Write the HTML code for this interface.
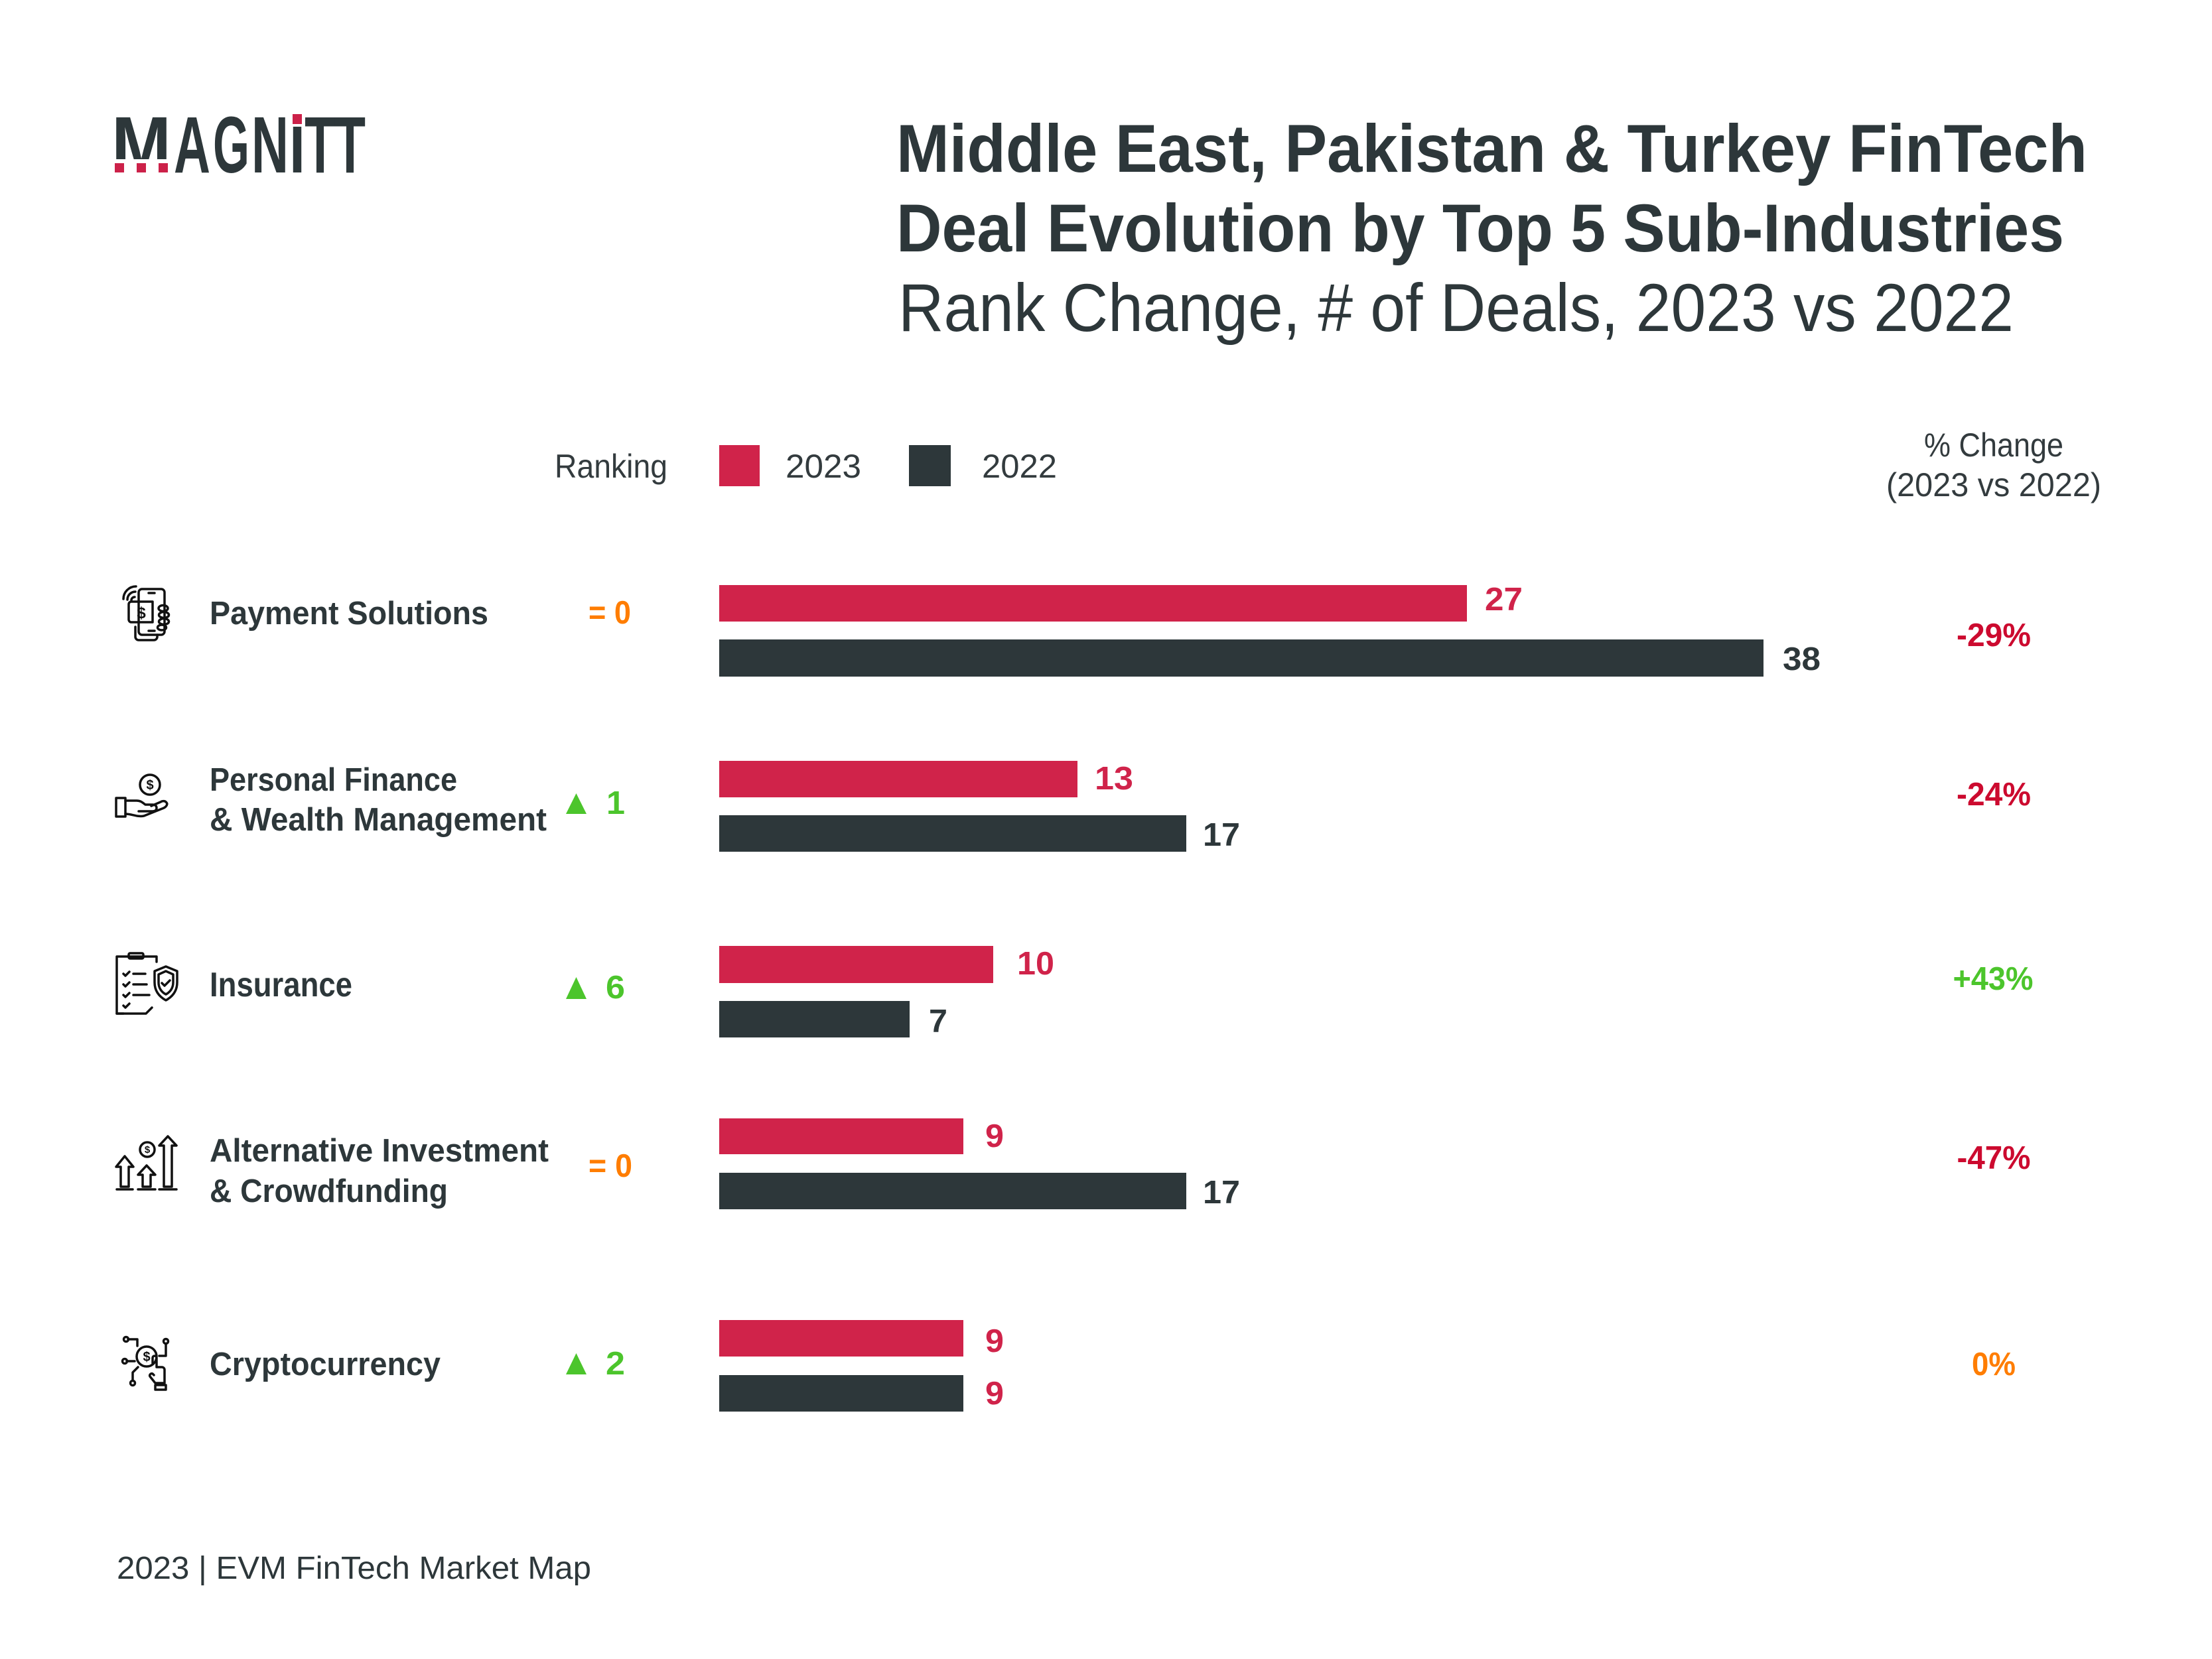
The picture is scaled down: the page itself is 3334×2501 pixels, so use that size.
<!DOCTYPE html>
<html>
<head>
<meta charset="utf-8">
<style>
html,body{margin:0;padding:0;background:#fff;}
svg{display:block;}
text{font-family:"Liberation Sans",Arial,sans-serif;}
</style>
</head>
<body>
<svg xmlns="http://www.w3.org/2000/svg" width="3334" height="2501" viewBox="0 0 3334 2501">
<rect x="0" y="0" width="3334" height="2501" fill="#ffffff"/>

<!-- Logo -->
<g fill="#2d373a" font-weight="bold" font-size="121">
  <text x="168" y="260" textLength="90" lengthAdjust="spacingAndGlyphs">M</text>
  <text x="262" y="260" textLength="55" lengthAdjust="spacingAndGlyphs">A</text>
  <text x="321" y="260" textLength="55" lengthAdjust="spacingAndGlyphs">G</text>
  <text x="379" y="260" textLength="56" lengthAdjust="spacingAndGlyphs">N</text>
  <text x="436" y="260" textLength="24" lengthAdjust="spacingAndGlyphs">I</text>
  <text x="459" y="260" textLength="47" lengthAdjust="spacingAndGlyphs">T</text>
  <text x="504" y="260" textLength="47" lengthAdjust="spacingAndGlyphs">T</text>
</g>
<rect x="166" y="240" width="92" height="24" fill="#fff"/>
<rect x="173" y="246" width="14" height="14" fill="#cc2149"/>
<rect x="206" y="246" width="14" height="14" fill="#cc2149"/>
<rect x="239" y="246" width="14" height="14" fill="#cc2149"/>
<rect x="434" y="168" width="26" height="23" fill="#fff"/>
<rect x="441" y="172" width="14" height="15" fill="#cc2149"/>

<!-- Title -->
<g fill="#2d373a">
  <text x="1351" y="259" font-size="102" font-weight="bold" textLength="1795" lengthAdjust="spacingAndGlyphs">Middle East, Pakistan &amp; Turkey FinTech</text>
  <text x="1351" y="379" font-size="102" font-weight="bold" textLength="1760" lengthAdjust="spacingAndGlyphs">Deal Evolution by Top 5 Sub-Industries</text>
  <text x="1354" y="499" font-size="102" textLength="1681" lengthAdjust="spacingAndGlyphs">Rank Change, # of Deals, 2023 vs 2022</text>
</g>

<!-- Legend -->
<g fill="#333b3e" font-size="50">
  <text x="836" y="720" textLength="170" lengthAdjust="spacingAndGlyphs">Ranking</text>
  <rect x="1084" y="671" width="61" height="62" fill="#d0234a"/>
  <text x="1184" y="720" textLength="114" lengthAdjust="spacingAndGlyphs">2023</text>
  <rect x="1370" y="671" width="63" height="62" fill="#2d373a"/>
  <text x="1480" y="720" textLength="113" lengthAdjust="spacingAndGlyphs">2022</text>
  <text x="3005" y="688" text-anchor="middle" textLength="210" lengthAdjust="spacingAndGlyphs">% Change</text>
  <text x="3005" y="748" text-anchor="middle" textLength="324" lengthAdjust="spacingAndGlyphs">(2023 vs 2022)</text>
</g>

<!-- Row labels -->
<g fill="#2d373a" font-size="49" font-weight="bold">
  <text x="316" y="941" textLength="420" lengthAdjust="spacingAndGlyphs">Payment  Solutions</text>
  <text x="316" y="1192" textLength="373" lengthAdjust="spacingAndGlyphs">Personal Finance</text>
  <text x="316" y="1252" textLength="508" lengthAdjust="spacingAndGlyphs">&amp; Wealth Management</text>
  <text x="316" y="1502" font-size="52" textLength="215" lengthAdjust="spacingAndGlyphs">Insurance</text>
  <text x="316" y="1751" textLength="511" lengthAdjust="spacingAndGlyphs">Alternative Investment</text>
  <text x="316" y="1812" textLength="359" lengthAdjust="spacingAndGlyphs">&amp; Crowdfunding</text>
  <text x="316" y="2073" textLength="348" lengthAdjust="spacingAndGlyphs">Cryptocurrency</text>
</g>

<!-- Rank changes -->
<g font-size="49" font-weight="bold">
  <text x="887" y="940" fill="#ff7d00" textLength="64" lengthAdjust="spacingAndGlyphs">= 0</text>
  <polygon points="853,1227 884,1227 868.5,1196" fill="#4cc52c"/>
  <text x="914" y="1227" fill="#4cc52c" textLength="28" lengthAdjust="spacingAndGlyphs">1</text>
  <polygon points="853,1506 884,1506 868.5,1473" fill="#4cc52c"/>
  <text x="913" y="1505" fill="#4cc52c" textLength="29" lengthAdjust="spacingAndGlyphs">6</text>
  <text x="887" y="1774" fill="#ff7d00" textLength="66" lengthAdjust="spacingAndGlyphs">= 0</text>
  <polygon points="853,2072 884,2072 868.5,2040" fill="#4cc52c"/>
  <text x="913" y="2072" fill="#4cc52c" textLength="29" lengthAdjust="spacingAndGlyphs">2</text>
</g>

<!-- Bars -->
<g>
  <rect x="1084" y="882" width="1127" height="55" fill="#d0234a"/>
  <rect x="1084" y="964" width="1574" height="56" fill="#2d373a"/>
  <rect x="1084" y="1147" width="540" height="55" fill="#d0234a"/>
  <rect x="1084" y="1229" width="704" height="55" fill="#2d373a"/>
  <rect x="1084" y="1426" width="413" height="56" fill="#d0234a"/>
  <rect x="1084" y="1509" width="287" height="55" fill="#2d373a"/>
  <rect x="1084" y="1686" width="368" height="54" fill="#d0234a"/>
  <rect x="1084" y="1768" width="704" height="55" fill="#2d373a"/>
  <rect x="1084" y="1990" width="368" height="55" fill="#d0234a"/>
  <rect x="1084" y="2073" width="368" height="55" fill="#2d373a"/>
</g>

<!-- Value labels -->
<g font-size="49" font-weight="bold">
  <text x="2238" y="920" fill="#d0234a" textLength="57" lengthAdjust="spacingAndGlyphs">27</text>
  <text x="2687" y="1010" fill="#2d373a" textLength="57" lengthAdjust="spacingAndGlyphs">38</text>
  <text x="1650" y="1190" fill="#d0234a" textLength="58" lengthAdjust="spacingAndGlyphs">13</text>
  <text x="1813" y="1275" fill="#2d373a" textLength="56" lengthAdjust="spacingAndGlyphs">17</text>
  <text x="1533" y="1469" fill="#d0234a" textLength="56" lengthAdjust="spacingAndGlyphs">10</text>
  <text x="1400" y="1556" fill="#2d373a" textLength="28" lengthAdjust="spacingAndGlyphs">7</text>
  <text x="1485" y="1729" fill="#d0234a" textLength="28" lengthAdjust="spacingAndGlyphs">9</text>
  <text x="1813" y="1814" fill="#2d373a" textLength="56" lengthAdjust="spacingAndGlyphs">17</text>
  <text x="1485" y="2038" fill="#d0234a" textLength="28" lengthAdjust="spacingAndGlyphs">9</text>
  <text x="1485" y="2117" fill="#d0234a" textLength="28" lengthAdjust="spacingAndGlyphs">9</text>
</g>

<!-- Percentages -->
<g font-size="49" font-weight="bold" text-anchor="middle">
  <text x="3005" y="974" fill="#cc0a2f" textLength="112" lengthAdjust="spacingAndGlyphs">-29%</text>
  <text x="3005" y="1214" fill="#cc0a2f" textLength="112" lengthAdjust="spacingAndGlyphs">-24%</text>
  <text x="3004" y="1492" fill="#4cc52c" textLength="121" lengthAdjust="spacingAndGlyphs">+43%</text>
  <text x="3005" y="1762" fill="#cc0a2f" textLength="111" lengthAdjust="spacingAndGlyphs">-47%</text>
  <text x="3005" y="2073" fill="#ff7d00" textLength="66" lengthAdjust="spacingAndGlyphs">0%</text>
</g>

<!-- Footer -->
<text x="176" y="2380" font-size="48" fill="#2d373a" textLength="715" lengthAdjust="spacingAndGlyphs">2023 | EVM FinTech Market Map</text>

<!-- Icons -->
<g fill="none" stroke="#111" stroke-width="3.5" stroke-linecap="round" stroke-linejoin="round">
  <!-- Payment -->
  <rect x="209" y="888" width="39" height="69" rx="5"/>
  <line x1="224" y1="894" x2="233" y2="894"/>
  <line x1="224" y1="951" x2="233" y2="951"/>
  <path d="M204 945 v15 a5 5 0 0 0 5 5 h23 a5 5 0 0 0 5 -5 v-3"/>
  <path d="M198 907 h32 v31 h-32 a4 4 0 0 1 -4 -4 v-23 a4 4 0 0 1 4 -4z"/>
  <ellipse cx="246" cy="917" rx="7" ry="4.5"/>
  <ellipse cx="247" cy="927" rx="7.5" ry="4.5"/>
  <ellipse cx="247" cy="937" rx="7.5" ry="4.5"/>
  <ellipse cx="244" cy="946" rx="6.5" ry="4"/>
  <path d="M186 903 a19 19 0 0 1 19 -19"/>
  <path d="M192 904 a12 12 0 0 1 12 -12"/>
  <path d="M198 905 a5 5 0 0 1 5 -5"/>

  <!-- Personal finance -->
  <circle cx="226" cy="1183" r="15"/>
  <rect x="175" y="1203" width="14" height="28"/>
  <path d="M189 1207 h17 c6 0 9 3 13 6 h11 c4 0 6 2 6 5 c0 3 -2 5 -6 5 h-21"/>
  <path d="M189 1227 c10 0 18 5 28 3 l30 -12 c4 -2 6 -6 4 -8 c-2 -3 -6 -3 -9 -1 l-14 6"/>

  <!-- Insurance -->
  <path d="M236 1450 v-8 h-60 v86 h44 l9 -9"/>
  <path d="M176 1528 h10"/>
  <rect x="194" y="1437" width="22" height="8" rx="2"/>
  <path d="M186 1468 l3 3 l6 -6 M201 1468 h18"/>
  <path d="M186 1484 l3 3 l6 -6 M201 1484 h20"/>
  <path d="M186 1500 l3 3 l6 -6 M201 1500 h24"/>
  <path d="M186 1516 l3 3 l6 -6"/>
  <path d="M250 1457 l17 7 v17 c0 14 -8 22 -17 27 c-9 -5 -17 -13 -17 -27 v-17z"/>
  <path d="M250 1464 l11 5 v12 c0 9 -5 15 -11 18 c-6 -3 -11 -9 -11 -18 v-12z"/>
  <path d="M244 1482 l4 4 l8 -8"/>

  <!-- Alternative investment -->
  <path d="M182 1789 v-30 h-7 l13 -16 l13 16 h-7 v30z"/>
  <line x1="176" y1="1793" x2="200" y2="1793"/>
  <path d="M215 1789 v-18 h-7 l13 -14 l13 14 h-7 v18z"/>
  <line x1="208" y1="1793" x2="234" y2="1793"/>
  <path d="M247 1789 v-62 h-7 l13 -14 l13 14 h-7 v62z"/>
  <line x1="240" y1="1793" x2="266" y2="1793"/>
  <circle cx="222" cy="1733" r="11"/>

  <!-- Crypto -->
  <circle cx="221" cy="2045" r="15"/>
  <circle cx="190" cy="2019" r="3.5"/>
  <circle cx="250" cy="2022" r="3.5"/>
  <circle cx="188" cy="2052" r="3.5"/>
  <circle cx="200" cy="2085" r="3.5"/>
  <path d="M193 2019 h14 v10"/>
  <path d="M250 2026 v18 h-10"/>
  <path d="M191 2052 h12"/>
  <path d="M200 2081 v-12 l8 -8"/>
  <path d="M230 2055 v-8 a3 3 0 0 1 6 0 v14 h8 a4 4 0 0 1 4 4 v20 h-14 l-8 -10 a3 3 0 0 1 4 -4 l2 2"/>
  <rect x="234" y="2088" width="16" height="7"/>
</g>
<g fill="#111" font-weight="bold" text-anchor="middle">
  <text x="213" y="932" font-size="24">$</text>
  <text x="226" y="1190" font-size="20">$</text>
  <text x="222" y="1738" font-size="15">$</text>
  <text x="221" y="2052" font-size="20">$</text>
</g>
</svg>
</body>
</html>
